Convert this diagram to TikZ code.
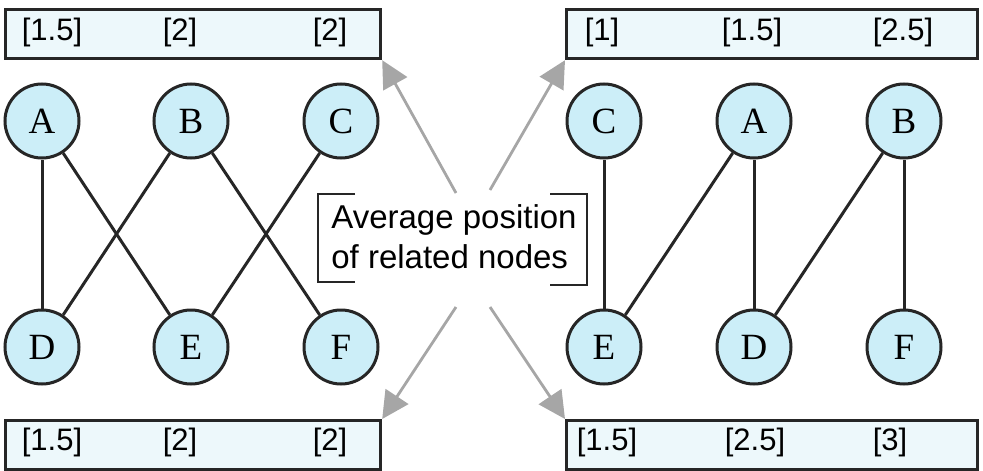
\documentclass[tikz,border=0pt]{standalone}
\usepackage{fontspec}
\setmainfont{Liberation Serif}
\setsansfont{Liberation Sans}
\usetikzlibrary{arrows.meta}
\definecolor{nodefill}{HTML}{CCEEF8}
\definecolor{boxfill}{HTML}{EDF8FB}
\definecolor{pointer}{HTML}{A6A6A6}

\begin{document}
\begin{tikzpicture}[x=1pt, y=-1pt,
    vertex/.style={circle, draw=black!85, line width=3pt, fill=nodefill, minimum size=74pt, inner sep=0pt, font=\fontsize{37}{37}\selectfont},
    rank/.style={rectangle, draw=black!85, line width=3.2pt, fill=boxfill, anchor=north west, inner sep=0pt},
    value/.style={font=\sffamily\fontsize{31}{31}\selectfont},
    edge/.style={line width=3pt, black!85},
    pointarrow/.style={-{Triangle[length=27pt, width=27pt]}, line width=2.8pt, pointer}
]
    \useasboundingbox (0,0) rectangle (983,471);

    % value boxes
    \node[rank, minimum width=375pt, minimum height=49pt] (tl) at (4,8) {};
    \node[rank, minimum width=411pt, minimum height=49pt] (tr) at (565,8) {};
    \node[rank, minimum width=375pt, minimum height=49pt] (bl) at (4,419) {};
    \node[rank, minimum width=411pt, minimum height=49pt] (br) at (565,419) {};

    \node[value] at (52,32) {[1.5]};
    \node[value] at (180,32) {[2]};
    \node[value] at (330,32) {[2]};
    \node[value] at (602,32) {[1]};
    \node[value] at (752,32) {[1.5]};
    \node[value] at (903,32) {[2.5]};
    \node[value] at (52,442) {[1.5]};
    \node[value] at (180,442) {[2]};
    \node[value] at (330,442) {[2]};
    \node[value] at (607,442) {[1.5]};
    \node[value] at (755,442) {[2.5]};
    \node[value] at (890,442) {[3]};

    % left graph
    \node[vertex] (la) at (42,121) {A};
    \node[vertex] (lb) at (191,121) {B};
    \node[vertex] (lc) at (341,121) {C};
    \node[vertex] (ld) at (42,347) {D};
    \node[vertex] (le) at (191,347) {E};
    \node[vertex] (lf) at (341,347) {F};

    \draw[edge] (la) -- (ld);
    \draw[edge] (la) -- (le);
    \draw[edge] (lb) -- (ld);
    \draw[edge] (lb) -- (lf);
    \draw[edge] (lc) -- (le);

    % right graph
    \node[vertex] (rc) at (604,121) {C};
    \node[vertex] (ra) at (754,121) {A};
    \node[vertex] (rb) at (904,121) {B};
    \node[vertex] (re) at (604,347) {E};
    \node[vertex] (rd) at (754,347) {D};
    \node[vertex] (rf) at (904,347) {F};

    \draw[edge] (rc) -- (re);
    \draw[edge] (ra) -- (re);
    \draw[edge] (ra) -- (rd);
    \draw[edge] (rb) -- (rd);
    \draw[edge] (rb) -- (rf);

    % caption with brackets
    \node[font=\sffamily\fontsize{33}{40}\selectfont, align=left] (avg) at (454,237) {Average position\\of related nodes};
    \draw[line width=2.8pt, black!85] (355,194) -- (318,194) -- (318,282) -- (355,282);
    \draw[line width=2.8pt, black!85] (550,194) -- (587,194) -- (587,285) -- (550,285);

    \coordinate (p1) at (456,193);
    \coordinate (p2) at (490,190);
    \coordinate (p3) at (456,307);
    \coordinate (p4) at (490,307);
    \draw[pointarrow] (p1) -- (tl.south east);
    \draw[pointarrow] (p2) -- (tr.south west);
    \draw[pointarrow] (p3) -- (bl.north east);
    \draw[pointarrow] (p4) -- (br.north west);
\end{tikzpicture}
\end{document}
